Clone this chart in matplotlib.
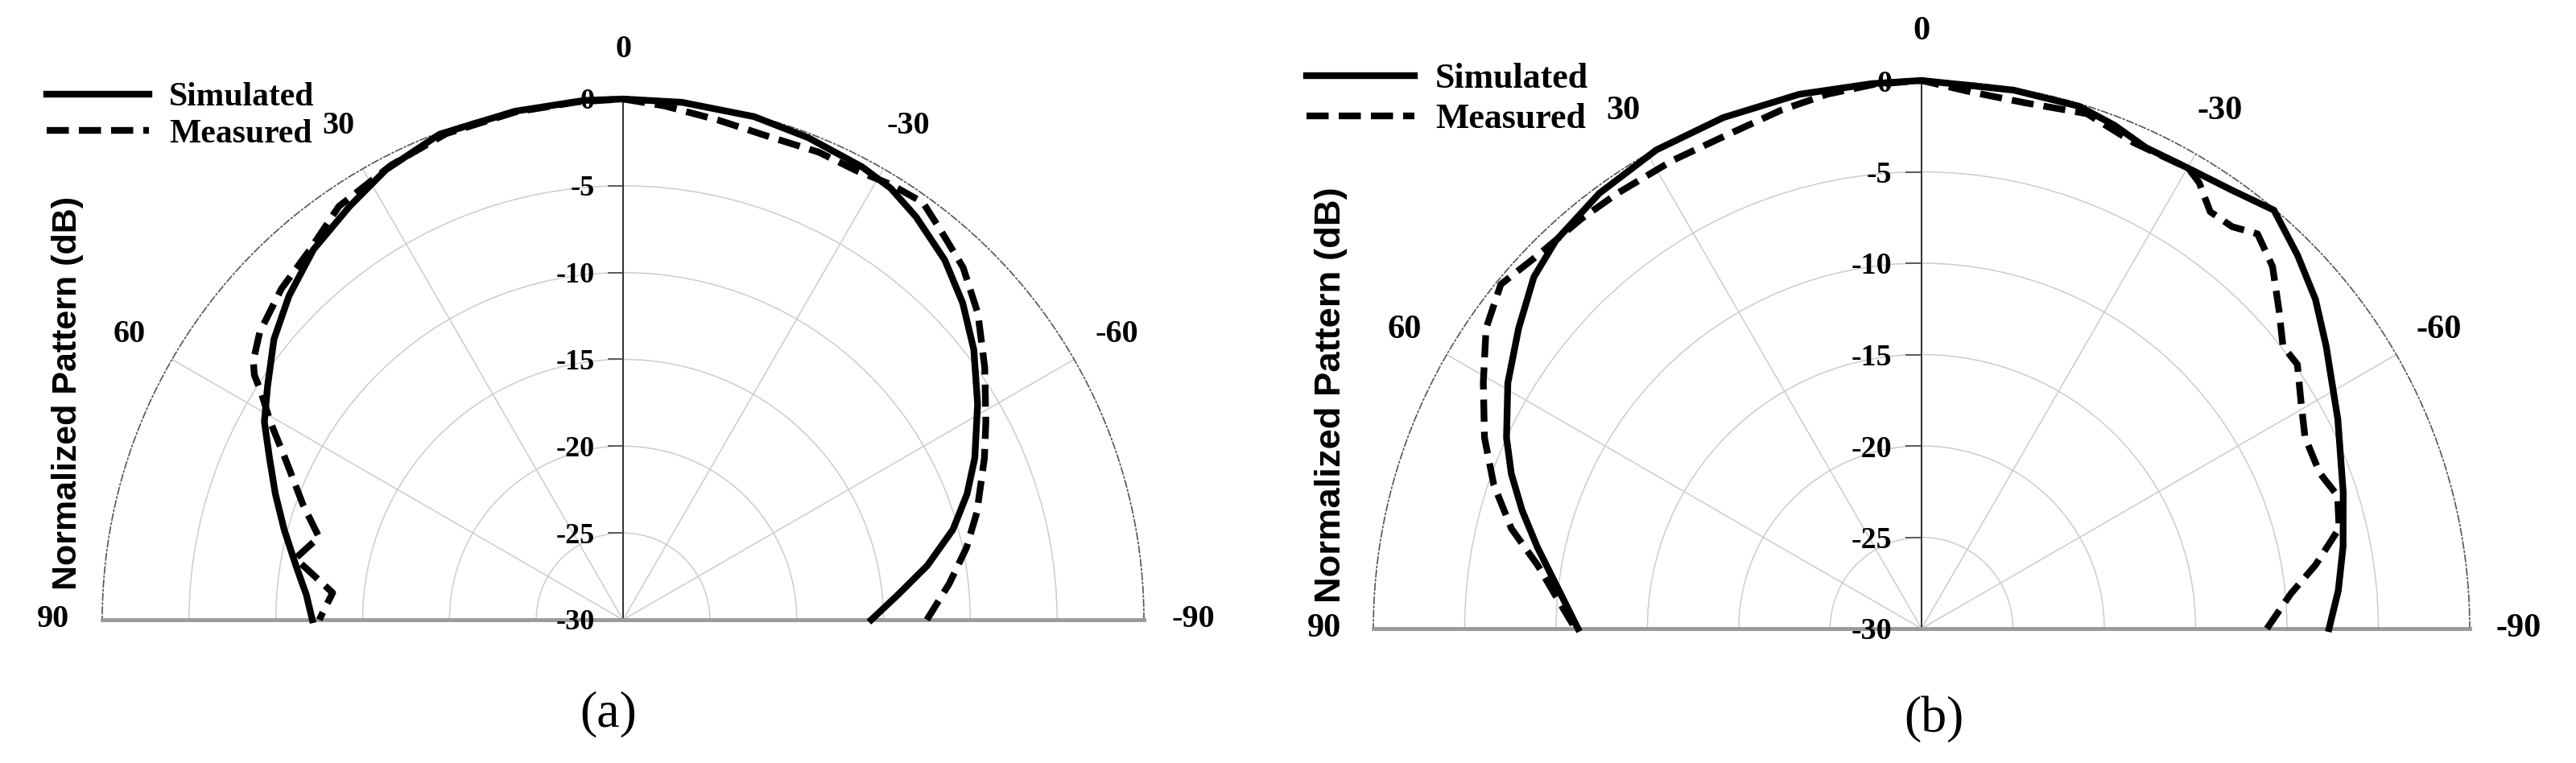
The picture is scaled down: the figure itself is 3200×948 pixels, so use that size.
import numpy as np
import matplotlib.pyplot as plt
from matplotlib.markers import TICKLEFT

########## data (angle in deg, + is left side; level in dB) ##########
a_sim_ang = [-90, -84.8, -79.9, -74.7, -69.9, -65.3, -58.7, -52.4, -47, -41.8, -36, -31.8, -27.8, -21, -14.6, -6.5,
             0, 4.3, 12, 20.7, 27.8, 33.5, 39.9, 45.9, 51.2, 56.7, 61.1, 65.4, 70.1, 75.1, 80.6, 85.5, 90]
a_sim_db = [-15.7, -14.1, -12.2, -10.3, -8.9, -7.7, -6.1, -4.5, -3.25, -2.2, -1.3, -0.75, -0.5, -0.25, -0.05, 0,
            0, 0, -0.05, -0.1, -0.7, -1.45, -2.2, -3.2, -4.2, -5.5, -6.4, -7.6, -8.7, -9.8, -10.9, -11.7, -12.1]

a_meas_ang = [-90, -83.7, -78.2, -73.1, -65.9, -61.4, -55.1, -49.2, -44, -39.3, -35.7, -31.6, -27.3, -22.7, -17.2,
              -10.8, -4.6, 0, 5, 12, 20, 27, 34.5, 40.2, 45.9, 51.6, 55, 56.4, 57.9, 60.7, 64.4, 70.2, 74.8,
              79.4, 84.7, 90]
a_meas_db = [-12.5, -11.1, -9.8, -8.7, -7.2, -6.2, -4.6, -3.0, -1.8, -1.07, -0.4, -0.56, -0.85, -0.8, -0.93,
             -0.7, -0.3, 0, -0.05, -0.1, -0.2, -0.6, -1.1, -2.07, -2.6, -3.3, -4.0, -4.5, -5.4, -6.7, -8.4, -10.4,
             -11.85, -10.8, -13.2, -12.5]

b_sim_ang = [-90, -84.8, -79, -72.1, -63.3, -55.1, -50.1, -45.2, -40.1, -35.3, -30.1, -25, -21, -16.8, -9.7,
             0, 5.2, 12.9, 21.2, 29, 36.5, 43.3, 47.8, 53.3, 59.3, 65.3, 69.3, 73.5, 78, 82.9, 90]
b_sim_db = [-7.7, -7.1, -6.5, -5.75, -4.5, -3.0, -1.9, -1.0, -0.06, -0.6, -0.88, -0.95, -0.5, -0.14, -0.1,
            0, -0.05, 0, 0, -0.05, -0.36, -0.82, -1.36, -2.5, -3.67, -5.0, -6.0, -7.2, -8.5, -9.8, -11.2]

b_meas_ang = [-90, -84.6, -80.8, -76.5, -72.3, -68.7, -63.5, -59.1, -54.9, -52, -48.3, -44.1, -40.4, -37.7,
              -34.7, -31.9, -30.1, -23.6, -17.8, -11.1, -5.2, 0, 5, 10, 15.1, 21.5, 28, 34.9, 39.7, 45.8, 50.7,
              55.4, 60.7, 66.4, 71.4, 76.3, 80.6, 85.7, 90]
b_meas_db = [-11.1, -9.7, -8.15, -6.5, -6.1, -6.6, -6.55, -5.8, -4.86, -4.9, -3.8, -2.4, -1.63, -2.2,
             -2.25, -1.25, -0.88, -0.98, -0.4, -0.67, -0.5, 0, -0.1, -0.3, -0.6, -0.96, -0.98, -0.94, -0.85, -0.7,
             -0.25, -1.05, -2.5, -3.9, -5.3, -6.9, -8.7, -10.1, -11.05]

r_ticks = [0, -5, -10, -15, -20, -25, -30]
ang_ticks = [-90, -60, -30, 0, 30, 60, 90]
ang_labels = ['-90', '-60', '-30', '0', '30', '60', '90']

########## figure ##########
W, H = 3200, 948
fig = plt.figure(figsize=(W / 100, H / 100), dpi=100)
serif = 'Liberation Serif'


def panel(cx, cy, R, s, sa, sd, ma, md, leg_x, leg_y, lsp, ylab_x, ylab_y, cap, cap_x, cap_y):
    # square box: the half disc is centred vertically inside it
    ax = fig.add_axes([(cx - R) / W, (H - cy - R / 2) / H, 2 * R / W, 2 * R / H], projection='polar')
    ax.set_theta_zero_location('N')
    ax.set_thetamin(-90)
    ax.set_thetamax(90)
    ax.set_ylim(-30, 0)

    # grid
    ax.set_yticks([-25, -20, -15, -10, -5])
    ax.set_yticklabels([])
    ax.tick_params(axis='y', length=0)
    ax.set_thetagrids(ang_ticks, ang_labels, fontsize=29 * s, fontweight='bold', family=serif)
    ax.tick_params(axis='x', direction='inout', length=12, width=1.1, color='#444444', pad=31)
    ax.grid(True, color='#cccccc', lw=1.1)
    ax.axvline(0, color='#222222', lw=1.3, zorder=2.2)

    ax.spines['polar'].set(color='#555555', lw=1.2, linestyle=(0, (5, 2, 1, 2)))
    for k in ('start', 'end'):
        ax.spines[k].set(color='#9a9a9a', lw=3.5)
    ax.spines['inner'].set_visible(False)

    # radial labels along the 0 deg axis
    for v in r_ticks:
        ax.annotate(str(v), xy=(0, v), xytext=(-35 * s, 0), textcoords='offset pixels',
                    ha='right', va='center_baseline', fontsize=26 * s, fontweight='bold',
                    family=serif, annotation_clip=False)
    ax.plot(np.zeros(len(r_ticks)), r_ticks, ls='none', marker=TICKLEFT, ms=14 * s,
            mew=1.2, color='#444444', clip_on=False, zorder=2.3)

    ax.plot(np.deg2rad(sa), sd, color='k', lw=6, label='Simulated', clip_on=False, zorder=3)
    ax.plot(np.deg2rad(ma), md, color='k', lw=6, dashes=(3.3, 1.5), label='Measured',
            clip_on=False, zorder=3)

    ax.legend(loc='upper left', bbox_to_anchor=(leg_x / W, 1 - leg_y / H), bbox_transform=fig.transFigure,
              frameon=False, prop=dict(family=serif, weight='bold', size=30 * s), handlelength=3.05,
              handletextpad=0.6, labelspacing=lsp, borderpad=0, borderaxespad=0)

    fig.text(ylab_x / W, 1 - ylab_y / H, 'Normalized Pattern (dB)', rotation=90, ha='center', va='center',
             family='Liberation Sans', weight='bold', size=31 * s)
    fig.text(cap_x / W, 1 - cap_y / H, cap, ha='center', va='center', family=serif, size=46)
    return ax


panel(774, 770, 647, 1.0, a_sim_ang, a_sim_db, a_meas_ang, a_meas_db,
      58, 102, 0.175, 84, 488, '(a)', 756, 887)
panel(2387, 781, 681, 1.053, b_sim_ang, b_sim_db, b_meas_ang, b_meas_db,
      1623, 78, 0.23, 1654, 491, '(b)', 2402, 894)

fig.savefig('out.png', dpi=100)
